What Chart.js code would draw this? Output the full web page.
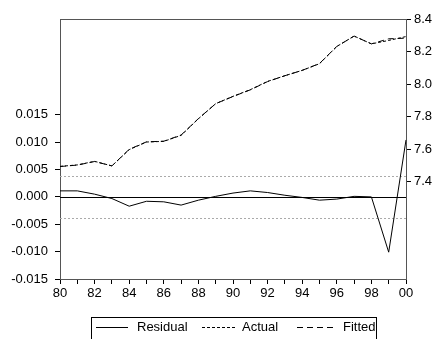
<!DOCTYPE html>
<html>
<head>
<meta charset="utf-8">
<script src="https://cdn.jsdelivr.net/npm/chart.js@4.4.1/dist/chart.umd.min.js"></script>
<style>
  html, body { margin: 0; padding: 0; background: #fff; }
  canvas { display: block; }
</style>
</head>
<body>
<canvas id="c" width="433" height="339"></canvas>
<script>
// Years 1980-2000, labelled with two digits
const years = ['80','81','82','83','84','85','86','87','88','89','90',
               '91','92','93','94','95','96','97','98','99','00'];

// Residuals (left axis)
const residual = [0.0011, 0.0011, 0.0005, -0.0003, -0.0017, -0.0008, -0.0009, -0.0015, -0.0006, 0.0001, 0.0007,
                  0.0011, 0.0008, 0.0003, -0.0001, -0.0006, -0.0004, 0.0001, 0.0000, -0.0101, 0.0104];

// Actual and fitted values (right axis)
const actual = [7.493, 7.502, 7.524, 7.496, 7.596, 7.643, 7.647, 7.684, 7.786, 7.879, 7.924,
                7.965, 8.016, 8.051, 8.084, 8.125, 8.231, 8.295, 8.247, 8.268, 8.292];
const fitted = [7.492, 7.501, 7.523, 7.496, 7.598, 7.644, 7.648, 7.686, 7.787, 7.879, 7.923,
                7.964, 8.015, 8.051, 8.084, 8.126, 8.231, 8.295, 8.247, 8.278, 8.282];

// Tick labels
const residualTicks = [-0.015, -0.010, -0.005, 0.000, 0.005, 0.010, 0.015];
const levelTicks = [7.4, 7.6, 7.8, 8.0, 8.2, 8.4];

// Residual standard error band
const seBand = 0.0039;

const FONT = "'Liberation Sans', Arial, sans-serif";
const AXIS_COLOR = '#555';

// Zero line, +/- S.E. dotted lines and the top frame line
const referenceLines = {
  id: 'referenceLines',
  beforeDatasetsDraw(chart) {
    const { ctx, chartArea: a } = chart;
    const y = chart.scales.y;
    ctx.save();
    ctx.lineWidth = 1;
    ctx.strokeStyle = '#aaa';
    ctx.setLineDash([2, 2]);
    [seBand, -seBand].forEach(v => {
      const py = Math.round(y.getPixelForValue(v)) + 0.5;
      ctx.beginPath(); ctx.moveTo(a.left, py); ctx.lineTo(a.right, py); ctx.stroke();
    });
    ctx.setLineDash([]);
    ctx.strokeStyle = '#000';
    const z = Math.round(y.getPixelForValue(0)) + 0.5;
    ctx.beginPath(); ctx.moveTo(a.left, z); ctx.lineTo(a.right, z); ctx.stroke();
    ctx.strokeStyle = AXIS_COLOR;
    const t = Math.round(a.top) + 0.5;
    ctx.beginPath(); ctx.moveTo(a.left, t); ctx.lineTo(a.right, t); ctx.stroke();
    ctx.restore();
  }
};

// Boxed legend below the axis
const boxedLegend = {
  id: 'boxedLegend',
  afterDraw(chart) {
    const { ctx } = chart;
    ctx.save();
    ctx.strokeStyle = '#000';
    ctx.lineWidth = 1;
    ctx.strokeRect(91.5, 317.5, 285, 40);
    const entries = [
      { x0: 96, x1: 128, tx: 137, ds: chart.data.datasets[0] },
      { x0: 202, x1: 237, tx: 242, ds: chart.data.datasets[1] },
      { x0: 297, x1: 337, tx: 343, ds: chart.data.datasets[2] }
    ];
    const ly = 327.5;
    ctx.font = '13px ' + FONT;
    ctx.fillStyle = '#000';
    ctx.textBaseline = 'middle';
    entries.forEach(e => {
      ctx.setLineDash(e.ds.borderDash || []);
      ctx.beginPath(); ctx.moveTo(e.x0, ly); ctx.lineTo(e.x1, ly); ctx.stroke();
      ctx.setLineDash([]);
      ctx.fillText(e.ds.label, e.tx, ly);
    });
    ctx.restore();
  }
};

new Chart(document.getElementById('c'), {
  type: 'line',
  data: {
    labels: years,
    datasets: [
      { label: 'Residual', data: residual, yAxisID: 'y', borderColor: '#000', borderWidth: 1,
        pointRadius: 0, tension: 0, fill: false },
      { label: 'Actual', data: actual, yAxisID: 'y1', borderColor: '#000', borderWidth: 1,
        borderDash: [3, 2], pointRadius: 0, tension: 0, fill: false },
      { label: 'Fitted', data: fitted, yAxisID: 'y1', borderColor: '#000', borderWidth: 1,
        borderDash: [6, 4], pointRadius: 0, tension: 0, fill: false }
    ]
  },
  options: {
    responsive: false,
    animation: false,
    devicePixelRatio: 1,
    layout: { padding: { top: 19, left: 0, right: 0, bottom: 0 } },
    plugins: { legend: { display: false }, tooltip: { enabled: false } },
    scales: {
      x: {
        type: 'category',
        offset: false,
        grid: { drawOnChartArea: false, drawTicks: true, tickLength: 5, color: '#000' },
        border: { color: AXIS_COLOR },
        ticks: {
          autoSkip: false, maxRotation: 0, minRotation: 0, padding: 2, color: '#000',
          font: { family: FONT, size: 13 },
          callback: (v, i) => (i % 2 === 0 ? years[i] : '')
        },
        afterFit: s => { s.height = 60; }
      },
      y: {
        position: 'left',
        min: -0.015, max: 0.0325,
        grid: { drawOnChartArea: false, drawTicks: true, tickLength: 5, color: '#000' },
        border: { color: AXIS_COLOR },
        afterBuildTicks: s => { s.ticks = residualTicks.map(v => ({ value: v })); },
        ticks: {
          padding: 7, color: '#000', font: { family: FONT, size: 13 },
          callback: v => v.toFixed(3)
        },
        afterFit: s => { s.width = 60; }
      },
      y1: {
        position: 'right',
        min: 6.8, max: 8.4,
        grid: { drawOnChartArea: false, drawTicks: true, tickLength: 5, color: '#000' },
        border: { color: AXIS_COLOR },
        afterBuildTicks: s => { s.ticks = levelTicks.map(v => ({ value: v })); },
        ticks: {
          padding: 3, color: '#000', font: { family: FONT, size: 13 },
          callback: v => v.toFixed(1)
        },
        afterFit: s => { s.width = 27; }
      }
    }
  },
  plugins: [referenceLines, boxedLegend]
});
</script>
</body>
</html>
